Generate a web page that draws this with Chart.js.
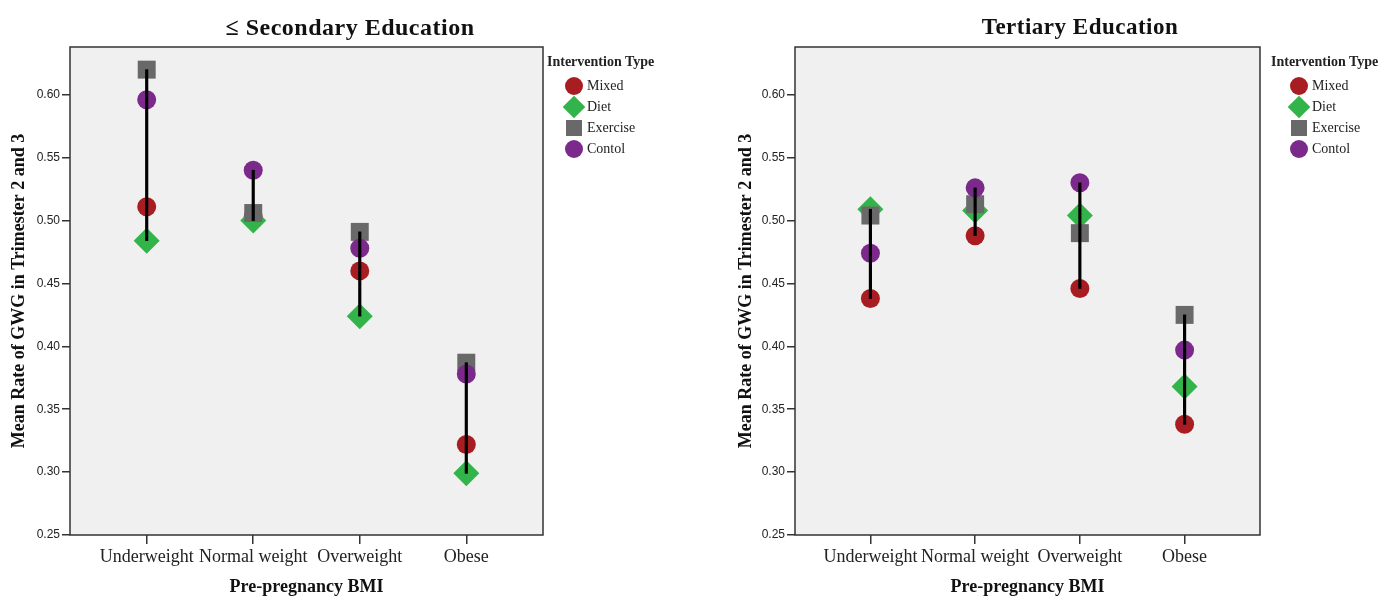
<!DOCTYPE html>
<html>
<head>
<meta charset="utf-8">
<title>Mean Rate of GWG by BMI and Intervention Type</title>
<script src="https://cdn.jsdelivr.net/npm/chart.js@4.4.1/dist/chart.umd.min.js"></script>
<style>
    body {
        margin: 0;
        width: 1381px;
        height: 596px;
        overflow: hidden;
        position: relative;
        background: #ffffff;
        font-family: "Liberation Serif", "Times New Roman", serif;
        color: #111;
    }
    .panel { position: absolute; top: 0; height: 596px; }
    .chart-title {
        position: absolute;
        top: 14px;
        width: 400px;
        text-align: center;
        font-weight: bold;
        font-size: 23px;
        letter-spacing: 0.5px;
        line-height: 26px;
        color: #111;
    }
    .legend { position: absolute; top: 0; font-size: 14px; color: #222; }
    .legend .head {
        position: absolute;
        left: 0;
        top: 54px;
        font-weight: bold;
        white-space: nowrap;
        line-height: 16px;
    }
    .legend .item { position: absolute; left: 0; height: 20px; white-space: nowrap; }
    .legend .mark { position: absolute; }
    .legend .text { position: absolute; line-height: 16px; top: 2px; }
</style>
</head>
<body>

<div class="panel" style="left:0; width:690px;"><canvas id="chartSecondary"></canvas></div>
<div class="panel" style="left:690px; width:691px;"><canvas id="chartTertiary"></canvas></div>

<div class="chart-title" style="left:150px; font-size:24px;">&le; Secondary Education</div>
<div class="chart-title" style="left:880px;">Tertiary Education</div>

<div class="legend" id="legendSecondary" style="left:547px;"></div>
<div class="legend" id="legendTertiary" style="left:1271px;"></div>

<script>
// ===== DATA =====
const bmiCategories = ['Underweight', 'Normal weight', 'Overweight', 'Obese'];
const interventionTypes = ['Mixed', 'Diet', 'Exercise', 'Contol'];
const yTickValues = [0.25, 0.30, 0.35, 0.40, 0.45, 0.50, 0.55, 0.60];

// <= Secondary Education
const secMixed    = [0.511, 0.503, 0.460, 0.322];
const secDiet     = [0.484, 0.500, 0.424, 0.299];
const secExercise = [0.620, 0.506, 0.491, 0.387];
const secControl  = [0.596, 0.540, 0.478, 0.378];

// Tertiary Education
const terMixed    = [0.438, 0.488, 0.446, 0.338];
const terDiet     = [0.509, 0.508, 0.504, 0.368];
const terExercise = [0.504, 0.513, 0.490, 0.425];
const terControl  = [0.474, 0.526, 0.530, 0.397];

// ===== STYLES =====
const typeColors = ['#a81d22', '#33b44a', '#696969', '#7b2a8b'];
const typeShapes = ['circle', 'rectRot', 'rect', 'circle'];
const typeRadius = [9.5, 13, 12.7, 9.5];

// Background and frame of the plot area
const plotFrame = {
    id: 'plotFrame',
    beforeDraw(chart) {
        const a = chart.chartArea;
        const ctx = chart.ctx;
        ctx.save();
        ctx.fillStyle = '#f0f0f0';
        ctx.fillRect(a.left, a.top, a.right - a.left, a.bottom - a.top);
        ctx.restore();
    },
    afterDraw(chart) {
        const a = chart.chartArea;
        const ctx = chart.ctx;
        ctx.save();
        ctx.strokeStyle = '#333333';
        ctx.lineWidth = 1.5;
        ctx.strokeRect(a.left, a.top, a.right - a.left, a.bottom - a.top);
        ctx.restore();
    }
};

function makeChart(canvasId, seriesList, yWidth, rightPad, yTitlePad) {
    // min-max drop line for each BMI category
    const ranges = bmiCategories.map((c, i) => {
        const vals = seriesList.map(s => s[i]);
        return { x: i, y: [Math.min(...vals), Math.max(...vals)] };
    });

    const datasets = [{
        type: 'bar',
        label: 'range',
        data: ranges,
        backgroundColor: '#000000',
        borderWidth: 0,
        barThickness: 2.5,
        order: 0
    }];

    seriesList.forEach((values, t) => {
        datasets.push({
            type: 'scatter',
            label: interventionTypes[t],
            data: values.map((v, i) => ({ x: i, y: v })),
            pointStyle: typeShapes[t],
            pointRadius: typeRadius[t],
            pointBackgroundColor: typeColors[t],
            pointBorderWidth: 0,
            order: 4 - t
        });
    });

    return new Chart(document.getElementById(canvasId), {
        type: 'scatter',
        data: { datasets: datasets },
        plugins: [plotFrame],
        options: {
            responsive: true,
            maintainAspectRatio: false,
            animation: false,
            events: [],
            layout: { padding: { top: 47, right: rightPad, left: 0, bottom: 0 } },
            plugins: {
                legend: { display: false },
                title: { display: false },
                tooltip: { enabled: false }
            },
            scales: {
                x: {
                    type: 'linear',
                    min: -0.72,
                    max: 3.72,
                    offset: false,
                    afterBuildTicks: function(scale) {
                        scale.ticks = bmiCategories.map((c, i) => ({ value: i }));
                    },
                    afterFit: function(scale) {
                        scale.height = 61;
                    },
                    ticks: {
                        callback: function(value) {
                            return bmiCategories[value];
                        },
                        color: '#222',
                        padding: 2,
                        maxRotation: 0,
                        autoSkip: false,
                        font: { family: 'Liberation Serif', size: 18 }
                    },
                    grid: { offset: false, drawOnChartArea: false, drawTicks: true, tickLength: 9, color: '#333', lineWidth: 1.5 },
                    border: { display: false },
                    title: {
                        display: true,
                        text: 'Pre-pregnancy BMI',
                        color: '#111',
                        padding: { top: 0, bottom: 0 },
                        font: { family: 'Liberation Serif', size: 18, weight: 'bold', lineHeight: 1 }
                    }
                },
                y: {
                    type: 'linear',
                    min: 0.25,
                    max: 0.638,
                    afterBuildTicks: function(scale) {
                        scale.ticks = yTickValues.map(v => ({ value: v }));
                    },
                    afterFit: function(scale) {
                        scale.width = yWidth;
                    },
                    ticks: {
                        callback: function(value) {
                            return value.toFixed(2);
                        },
                        color: '#222',
                        padding: 2,
                        font: { family: 'Liberation Sans', size: 12 }
                    },
                    grid: { drawOnChartArea: false, drawTicks: true, tickLength: 8, color: '#333', lineWidth: 1.5 },
                    border: { display: false },
                    title: {
                        display: true,
                        text: 'Mean Rate of GWG in Trimester 2 and 3',
                        color: '#111',
                        padding: { top: yTitlePad, bottom: 0 },
                        font: { family: 'Liberation Serif', size: 18, weight: 'bold', lineHeight: 1.2 }
                    }
                }
            }
        }
    });
}

// HTML legend built from the series names and styles
function buildLegend(elId, markX, textX) {
    const el = document.getElementById(elId);
    let html = '<div class="head">Intervention Type</div>';
    const rowY = [86, 107, 128, 149];
    interventionTypes.forEach((name, t) => {
        let mark;
        if (typeShapes[t] === 'circle') {
            mark = `<div class="mark" style="left:${markX - 9}px; top:1px; width:18px; height:18px; border-radius:50%; background:${typeColors[t]};"></div>`;
        } else if (typeShapes[t] === 'rectRot') {
            mark = `<div class="mark" style="left:${markX - 8}px; top:2px; width:16px; height:16px; transform:rotate(45deg); background:${typeColors[t]};"></div>`;
        } else {
            mark = `<div class="mark" style="left:${markX - 8}px; top:2px; width:16px; height:16px; background:${typeColors[t]};"></div>`;
        }
        html += `<div class="item" style="top:${rowY[t] - 10}px;">${mark}<span class="text" style="left:${textX}px;">${name}</span></div>`;
    });
    el.innerHTML = html;
}

document.addEventListener('DOMContentLoaded', function() {
    makeChart('chartSecondary', [secMixed, secDiet, secExercise, secControl], 70, 147, 9);
    makeChart('chartTertiary', [terMixed, terDiet, terExercise, terControl], 105, 121, 46);
    buildLegend('legendSecondary', 27, 40);
    buildLegend('legendTertiary', 28, 41);
});
</script>
</body>
</html>
